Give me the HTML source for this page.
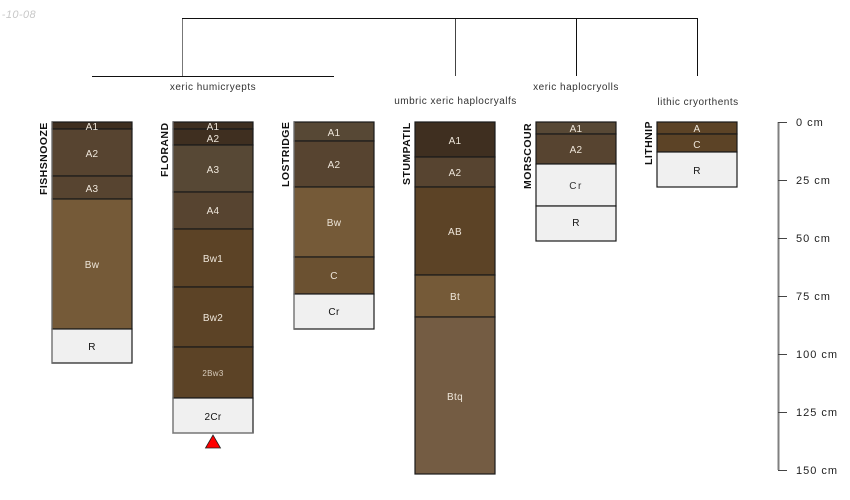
<!DOCTYPE html>
<html><head><meta charset="utf-8"><style>
html,body{margin:0;padding:0;background:#fff;width:850px;height:500px;overflow:hidden}
svg{display:block}
text{font-family:"Liberation Sans",sans-serif;font-size:10px;text-anchor:middle}
.h{fill:#eee6da;letter-spacing:.3px}.d{fill:#111;letter-spacing:.3px}.t{fill:#333;letter-spacing:.5px}
.n{font-weight:bold;font-size:10.5px;fill:#111;letter-spacing:.45px;text-anchor:start}
.s{text-anchor:start;fill:#222;font-size:11px;letter-spacing:1px}
.i{stroke:#1a1a1a;stroke-width:1.2}
.l{stroke:#777;stroke-width:1.2;fill:none}
</style></head><body>
<svg width="850" height="500" viewBox="0 0 850 500" xmlns="http://www.w3.org/2000/svg">
<text x="36" y="18" style="text-anchor:end;font-style:italic;font-size:11px;fill:#c8c8c8;letter-spacing:.4px">-10-08</text>

<g fill="none" stroke="#111" stroke-width="1">
<path d="M182.500 76V18.500H697.500V76"/>
<path d="M455.500 18.500V76"/>
<path d="M576.500 18.500V76"/>
<path d="M92 76.500H334"/>
</g>
<path d="M182.500 19V76" stroke="#777" stroke-width="1" fill="none"/>
<path d="M455.500 19V76" stroke="#444" stroke-width="1" fill="none"/>
<text class="t" x="213" y="90">xeric humicryepts</text>
<text class="t" x="455.500" y="104">umbric xeric haplocryalfs</text>
<text class="t" x="576" y="90">xeric haplocryolls</text>
<text class="t" x="698" y="105">lithic cryorthents</text>

<!-- FISHSNOOZE -->
<g class="i">
<rect x="52" y="122" width="80" height="7" fill="#3f2f20"/>
<rect x="52" y="129" width="80" height="47" fill="#574430"/>
<rect x="52" y="176" width="80" height="23" fill="#574430"/>
<rect x="52" y="199" width="80" height="130" fill="#755a38"/>
<rect x="52" y="329" width="80" height="34" fill="#f0f0f0"/>
</g>
<path class="l" d="M52 122V363"/>
<text class="h" x="92" y="130">A1</text><text class="h" x="92" y="157">A2</text><text class="h" x="92" y="192">A3</text><text class="h" x="92" y="268">Bw</text><text class="d" x="92" y="350">R</text>
<text class="n" transform="translate(47,195) rotate(-90)">FISHSNOOZE</text>

<!-- FLORAND -->
<g class="i">
<rect x="173" y="122" width="80" height="7" fill="#3f2f20"/>
<rect x="173" y="129" width="80" height="16" fill="#3f2f20"/>
<rect x="173" y="145" width="80" height="47" fill="#574835"/>
<rect x="173" y="192" width="80" height="37" fill="#574430"/>
<rect x="173" y="229" width="80" height="58" fill="#5c4326"/>
<rect x="173" y="287" width="80" height="60" fill="#5c4326"/>
<rect x="173" y="347" width="80" height="51" fill="#5c4326"/>
<rect x="173" y="398" width="80" height="35" fill="#f0f0f0"/>
</g>
<path class="l" d="M173 122V433"/>
<path class="l" d="M173 433H253"/>
<text class="h" x="213" y="130">A1</text><text class="h" x="213" y="142">A2</text><text class="h" x="213" y="173">A3</text><text class="h" x="213" y="214">A4</text><text class="h" x="213" y="262">Bw1</text><text class="h" x="213" y="321">Bw2</text><text class="h" x="213" y="376" style="font-size:8px;fill:#d8cdbd">2Bw3</text><text class="d" x="213" y="420">2Cr</text>
<text class="n" transform="translate(168,177) rotate(-90)">FLORAND</text>
<path d="M205.500 448L213 435L220.500 448Z" fill="#f00" stroke="#222" stroke-width=".8"/>

<!-- LOSTRIDGE -->
<g class="i">
<rect x="294" y="122" width="80" height="19" fill="#574835"/>
<rect x="294" y="141" width="80" height="46" fill="#574430"/>
<rect x="294" y="187" width="80" height="70" fill="#755a38"/>
<rect x="294" y="257" width="80" height="37" fill="#6b5131"/>
<rect x="294" y="294" width="80" height="35" fill="#f0f0f0"/>
</g>
<path class="l" d="M294 122V329"/>
<text class="h" x="334" y="136">A1</text><text class="h" x="334" y="168">A2</text><text class="h" x="334" y="226">Bw</text><text class="h" x="334" y="279">C</text><text class="d" x="334" y="315">Cr</text>
<text class="n" transform="translate(289,187) rotate(-90)">LOSTRIDGE</text>

<!-- STUMPATIL -->
<g class="i">
<rect x="415" y="122" width="80" height="35" fill="#3f2f20"/>
<rect x="415" y="157" width="80" height="30" fill="#574430"/>
<rect x="415" y="187" width="80" height="88" fill="#5c4326"/>
<rect x="415" y="275" width="80" height="42" fill="#755a38"/>
<rect x="415" y="317" width="80" height="157" fill="#745c43"/>
</g>
<text class="h" x="455" y="144">A1</text><text class="h" x="455" y="176">A2</text><text class="h" x="455" y="235">AB</text><text class="h" x="455" y="300">Bt</text><text class="h" x="455" y="400">Btq</text>
<text class="n" transform="translate(410,185) rotate(-90)">STUMPATIL</text>

<!-- MORSCOUR -->
<g class="i">
<rect x="536" y="122" width="80" height="12" fill="#574835"/>
<rect x="536" y="134" width="80" height="30" fill="#574430"/>
<rect x="536" y="164" width="80" height="42" fill="#f0f0f0"/>
<rect x="536" y="206" width="80" height="35" fill="#f0f0f0"/>
</g>
<text class="h" x="576" y="132">A1</text><text class="h" x="576" y="153">A2</text><text class="d" x="576" y="189" style="fill:#333;letter-spacing:1.5px">Cr</text><text class="d" x="576" y="226">R</text>
<text class="n" transform="translate(531,189) rotate(-90)">MORSCOUR</text>

<!-- LITHNIP -->
<g class="i">
<rect x="657" y="122" width="80" height="12" fill="#5c4326"/>
<rect x="657" y="134" width="80" height="18" fill="#5c4326"/>
<rect x="657" y="152" width="80" height="35" fill="#f0f0f0"/>
</g>
<text class="h" x="697" y="132">A</text><text class="h" x="697" y="148">C</text><text class="d" x="697" y="174">R</text>
<text class="n" transform="translate(652,165) rotate(-90)">LITHNIP</text>

<!-- depth axis -->
<g fill="none">
<path d="M778.500 122V470" stroke="#808080" stroke-width="2"/>
<path d="M778 122.500H787M778 180.500H787M778 238.500H787M778 296.500H787M778 354.500H787M778 412.500H787M778 470.500H787" stroke="#444" stroke-width="1"/>
</g>
<text class="s" x="796" y="126">0 cm</text>
<text class="s" x="796" y="184">25 cm</text>
<text class="s" x="796" y="242">50 cm</text>
<text class="s" x="796" y="300">75 cm</text>
<text class="s" x="796" y="358">100 cm</text>
<text class="s" x="796" y="416">125 cm</text>
<text class="s" x="796" y="474">150 cm</text>
</svg>
</body></html>
